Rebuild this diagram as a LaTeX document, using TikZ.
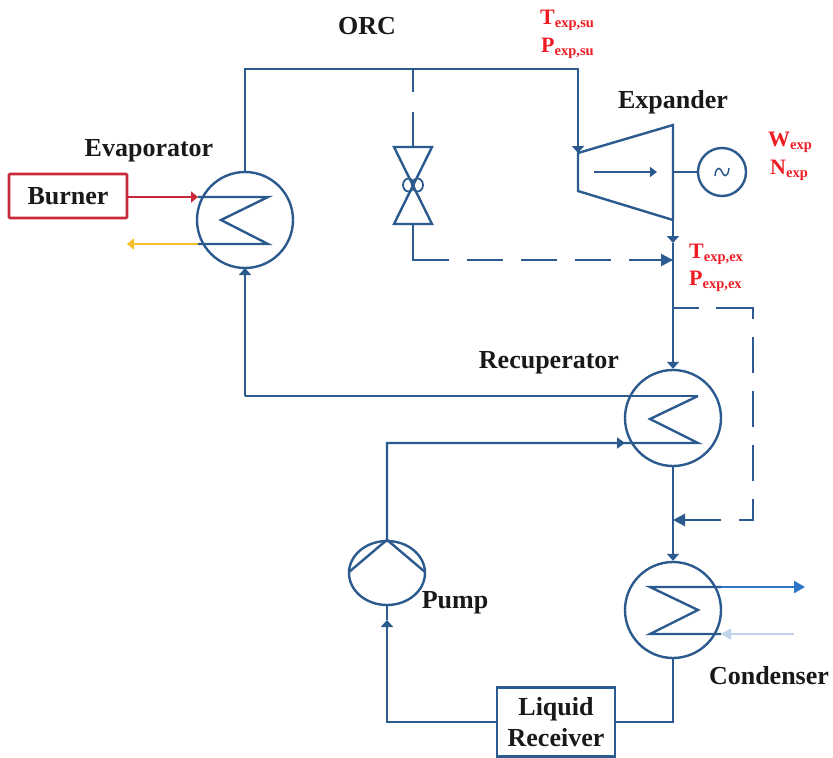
\documentclass[tikz,border=0pt]{standalone}
\usepackage{fontspec}
\setmainfont{Liberation Serif}
\usetikzlibrary{arrows.meta,shapes.geometric}
\definecolor{pipeblue}{HTML}{2B5A8E}
\definecolor{burnred}{HTML}{C8283A}
\definecolor{hotyellow}{HTML}{F7BE2C}
\definecolor{coolblue}{HTML}{2F75C8}
\definecolor{paleblue}{HTML}{BFD2EA}
\definecolor{labelred}{HTML}{F01C24}
\newcommand{\qty}[2]{#1{\fontsize{14.5}{14.5}\selectfont\raisebox{-3.5pt}{#2}}}
\tikzset{
  x=1pt,y=-1pt,
  pipe/.style={draw=pipeblue,line width=2.4pt,line join=miter},
  hx/.style={circle,draw=pipeblue,line width=2.4pt,minimum size=96pt,inner sep=0pt},
  tip/.style={-{Triangle[length=7pt,width=12pt]}},
  title/.style={font=\bfseries\fontsize{26}{28}\selectfont,text=black!90,inner sep=0pt,anchor=base},
  reading/.style={font=\bfseries\fontsize{22}{24}\selectfont,text=labelred,inner sep=0pt,anchor=base west},
  boxnode/.style={draw=pipeblue,line width=2.6pt,fill=white,inner sep=0pt}
}
\begin{document}
\begin{tikzpicture}
\useasboundingbox (0,0) rectangle (833,758);
% heat exchangers
\node[hx] (evap) at (245,220) {};
\node[hx] (recup) at (673,418) {};
\node[hx] (cond) at (673,610) {};
% pump and generator
\node[ellipse,draw=pipeblue,line width=2.4pt,minimum width=76pt,minimum height=64pt,inner sep=0pt] (pump) at (387,573) {};
\node[circle,draw=pipeblue,line width=2.4pt,minimum size=48pt,inner sep=0pt] (gen) at (722,172) {};
% boxes
\node[boxnode,draw=burnred,minimum width=118pt,minimum height=44pt,rounded corners=1pt,font=\bfseries\fontsize{26}{28}\selectfont,text=black!90] (burner) at (68,196) {Burner};
\node[boxnode,minimum width=118pt,minimum height=69pt,align=center,font=\bfseries\fontsize{26}{31}\selectfont,text=black!90] (receiver) at (556,722) {Liquid\\Receiver};
% junctions
\coordinate (evapT) at (245,172);
\coordinate (evapB) at (245,268);
\coordinate (tl) at (245,69);
\coordinate (vj) at (413,69);
\coordinate (tr) at (578,69);
\coordinate (einT) at (578,153);
\coordinate (einB) at (578,191);
\coordinate (etop) at (673,125);
\coordinate (ebot) at (673,220);
\coordinate (eshaft) at (673,172);
\coordinate (etip) at (673,243);
\coordinate (bj) at (673,260);
\coordinate (dj) at (673,308);
\coordinate (dtr) at (753,308);
\coordinate (dbr) at (753,520);
\coordinate (mj) at (673,520);
\coordinate (vT) at (413,147);
\coordinate (vB) at (413,224);
\coordinate (vBL) at (413,260);
\coordinate (vC) at (413,185);
% main loop
\draw[pipe] (evapT) -- (tl) -- (vj) -- (tr) -- (einT);
\draw[pipe,tip] (tr) -- (einT);
\draw[pipe] (einT) -- (einB) -- (ebot);
\draw[pipe] (einT) -- (etop) -- (ebot);
\draw[pipe,tip] (ebot) -- (etip);
\draw[pipe,tip] (etip) -- (recup.north);
\draw[pipe,tip] (recup.south) -- (cond.north);
\draw[pipe] (cond.south) |- (receiver.east);
\draw[pipe,tip] (receiver.west) -| (387,620);
\draw[pipe] (387,620) -- (pump.south);
% expander inner arrow and generator
\coordinate (ia) at (594,172);
\coordinate (ib) at (657,172);
\draw[pipe,-{Triangle[length=7pt,width=10pt]}] (ia) -- (ib);
\draw[pipe] (eshaft) -- (gen.west);
\draw[pipeblue,line width=1.5pt] (715,176) .. controls (716,165) and (721,168) .. (722,172) .. controls (723,176) and (728,179) .. (729,168);
% recuperator tube
\coordinate (r1) at (698,396);
\coordinate (r2) at (650,419);
\coordinate (r3) at (698,443);
\coordinate (rl) at (245,396);
\coordinate (pl) at (387,443);
\draw[pipe] (r1) -- (r2) -- (r3) -- (pl) -- (pump.north);
\draw[pipe] (r1) -- (rl);
\draw[pipe,tip] (rl) -- (evapB);
\coordinate (ra) at (625,443);
\draw[pipe,-{Triangle[length=8pt,width=11pt]}] (pl) -- (ra);
% evaporator tube
\coordinate (e1) at (268,197);
\coordinate (e2) at (221,220);
\coordinate (e3) at (268,244);
\coordinate (e4) at (198,197);
\coordinate (e5) at (198,244);
\draw[pipe] (e4) -- (e1) -- (e2) -- (e3) -- (e5);
\coordinate (bin) at (198,197);
\draw[burnred,line width=2.4pt,-{Triangle[length=7pt,width=11pt]}] (burner.east |- bin) -- (bin);
\coordinate (yout) at (127,244);
\draw[hotyellow,line width=2.4pt,-{Triangle[length=7pt,width=11pt]}] (e5) -- (yout);
% condenser tube
\coordinate (c1) at (721,587);
\coordinate (c2) at (650,587);
\coordinate (c3) at (698,610);
\coordinate (c4) at (650,634);
\coordinate (c5) at (721,634);
\draw[pipe] (c1) -- (c2) -- (c3) -- (c4) -- (c5);
\coordinate (cout) at (805,587);
\coordinate (cinS) at (794,634);
\draw[coolblue,line width=2.4pt,-{Triangle[length=11pt,width=12pt]}] (c1) -- (cout);
\draw[paleblue,line width=1.8pt,-{Triangle[length=10pt,width=11pt]}] (cinS) -- (c5);
% pump blades
\draw[pipe] (349,572) -- (pump.north) -- (425,572);
% bypass valve branch
\draw[pipe,dash pattern=on 23pt off 20pt on 60pt] (vj) -- (vT);
\draw[pipe,line join=miter] (394,147) -- (432,147) -- (394,224) -- (432,224) -- cycle;
\draw[pipeblue,line width=1.8pt] (408.5,185) ellipse (5.5pt and 6.5pt) (417.5,185) ellipse (5.5pt and 6.5pt);
\draw[pipe,dash pattern=on 72pt off 18pt on 36pt off 18pt on 36pt off 18pt on 36pt off 18pt on 60pt] (vB) -- (vBL) -- (bj);
\draw[pipe,-{Triangle[length=12pt,width=12pt]}] (629,260) -- (bj);
% expander bypass
\draw[pipe,dash pattern=on 26pt off 17pt on 48pt off 18pt on 36pt off 18pt on 36pt off 18pt on 36pt off 18pt on 35pt off 18pt on 22pt] (dj) -- (dtr) -- (dbr) -- (720,520);
\draw[pipe,-{Triangle[length=12pt,width=12pt]}] (720,520) -- (mj);
% labels
\node[title] (lorc) at (367,34) {ORC};
\node[title] (lexp) at (673,108) {Expander};
\node[title] (levap) at (149,156) {Evaporator};
\node[title] (lrec) at (549,368) {Recuperator};
\node[title] (lpump) at (455,608) {Pump};
\node[title] (lcond) at (769,684) {Condenser};
\node[reading] (ts) at (540,24) {\qty{T}{exp,su}};
\node[reading] (ps) at (541,52) {\qty{P}{exp,su}};
\node[reading] (te) at (689,258) {\qty{T}{exp,ex}};
\node[reading] (pe) at (689,285) {\qty{P}{exp,ex}};
\node[reading] (wx) at (768,146) {\qty{W}{exp}};
\node[reading] (nx) at (770,174) {\qty{N}{exp}};
\end{tikzpicture}
\end{document}
